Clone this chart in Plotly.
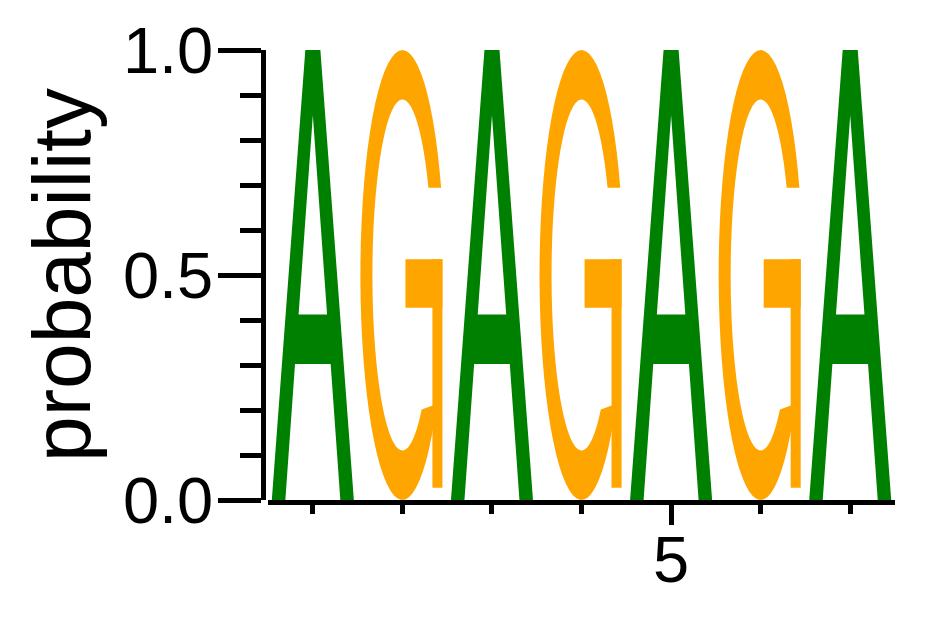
import numpy as np
import plotly.graph_objects as go

# sequence logo data: probability of each base per position
positions = [1, 2, 3, 4, 5, 6, 7]
prob_A = [1.0, 0.0, 1.0, 0.0, 1.0, 0.0, 1.0]
prob_G = [0.0, 1.0, 0.0, 1.0, 0.0, 1.0, 0.0]
letters = ["A", "G"]
letter_probs = {"A": prob_A, "G": prob_G}
letter_colors = {"A": "#008000", "G": "#FFA500"}
y_tickvals = [0.0, 0.5, 1.0]
y_ticktext = ["0.0", "0.5", "1.0"]
x_tickvals = [5]
x_minorvals = [1, 2, 3, 4, 6, 7]

FONT = "Liberation Sans, Arial, sans-serif"


# glyph outlines: x offset from column centre (axis units), y as fraction of letter height
def ellipse(ax, by, cy, a0, a1, n=60):
    t = np.radians(np.linspace(a0, a1, n))
    return list(zip(ax * np.cos(t), cy + by * np.sin(t)))


glyph_A = [
    [(-0.458, 0), (-0.084, 1), (0.084, 1), (0.458, 0), (0.307, 0),
     (0.199, 0.302), (-0.199, 0.302), (-0.307, 0)],
    [(-0.159, 0.412), (0, 0.855), (0.159, 0.412)],
]
glyph_G = [
    ellipse(0.469, 0.5, 0.5, 22.8, 325) + ellipse(0.335, 0.39, 0.5, 310, 29.8),
    [(0.034, 0.427), (0.447, 0.427), (0.447, 0.535), (0.034, 0.535)],
    [(0.335, 0.027), (0.447, 0.027), (0.447, 0.535), (0.335, 0.535)],
]
glyphs = {"A": glyph_A, "G": glyph_G}


def letter_shapes(letter, x, y0, h, color):
    out = []
    if letter == "A":
        # outline + counter in one path (evenodd)
        d = ""
        for poly in glyphs[letter]:
            d += "M" + "L".join(f"{x + px:.4f},{y0 + py * h:.4f}" for px, py in poly) + "Z"
        out.append(dict(type="path", path=d, xref="x", yref="y", fillcolor=color,
                        line=dict(width=0), fillrule="evenodd", layer="below"))
    else:
        for poly in glyphs[letter]:
            d = "M" + "L".join(f"{x + px:.4f},{y0 + py * h:.4f}" for px, py in poly) + "Z"
            out.append(dict(type="path", path=d, xref="x", yref="y", fillcolor=color,
                            line=dict(width=0), layer="below"))
    return out


shapes = []
for i, pos in enumerate(positions):
    stack = sorted([(letter_probs[l][i], l) for l in letters])
    base = 0.0
    for p, l in stack:
        if p <= 0:
            continue
        shapes += letter_shapes(l, pos, base, p, letter_colors[l])
        base += p

fig = go.Figure()
fig.add_trace(go.Scatter(x=positions, y=[0] * len(positions), mode="markers",
                         marker=dict(opacity=0), showlegend=False, hoverinfo="skip"))

# page body has an 8px margin, so the figure is 8px smaller than the window
fig.update_layout(
    width=934, height=609,
    margin=dict(l=255, r=47, t=42, b=117),
    plot_bgcolor="white", paper_bgcolor="white",
    font=dict(family=FONT, color="black"),
    shapes=shapes,
    xaxis=dict(
        domain=[0.008, 1], range=[0.5, 7.5], automargin=False,
        showgrid=False, zeroline=False,
        showline=True, linecolor="black", linewidth=4.5,
        ticks="outside", tickvals=x_tickvals, ticktext=[str(v) for v in x_tickvals],
        ticklen=20, tickwidth=4.5, tickcolor="black",
        tickfont=dict(size=65), ticklabelstandoff=-21,
        minor=dict(tickvals=x_minorvals, ticks="outside", ticklen=9,
                   tickwidth=4.5, tickcolor="black"),
    ),
    yaxis=dict(
        anchor="free", position=0, range=[0, 1], automargin=False,
        showgrid=False, zeroline=False,
        showline=True, linecolor="black", linewidth=4.5,
        ticks="outside", tickvals=y_tickvals, ticktext=y_ticktext,
        ticklen=43, tickwidth=4.5, tickcolor="black",
        tickfont=dict(size=65), ticklabelstandoff=-8,
        minor=dict(tick0=0, dtick=0.1, ticks="outside", ticklen=21,
                   tickwidth=4.5, tickcolor="black"),
        title=dict(text="probability", font=dict(size=82), standoff=4),
    ),
)

fig.write_html("out.html")
